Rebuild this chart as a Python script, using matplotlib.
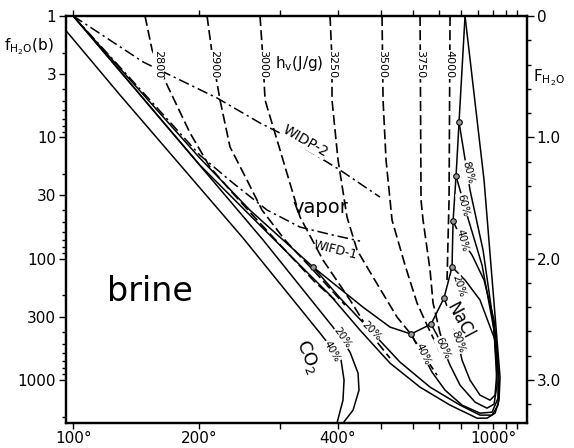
import numpy as np
import matplotlib.pyplot as plt
from matplotlib.ticker import FixedLocator, NullFormatter, MultipleLocator

# temperatures in deg C, fugacities in bar

# CO2 isopleths
co2_40_T = [96.1, 131.9, 249.4, 365, 406.4, 412.7, 410.5, 398]
co2_40_f = [1.35, 4.48, 67.6, 409, 685, 1000, 1465, 2266]
co2_20_T = [100, 275.2, 390, 425.7, 443.8, 446, 432.4, 410.5]
co2_20_f = [1.0, 70, 366, 589, 877, 1211, 1771, 2266]

# three phase curve with the isopleth end points
tp_T = [100, 201, 258, 352.7, 455.5, 526.5, 592, 665.4, 720, 757, 762, 776.6, 791.7, 823.3]
tp_f = [1.0, 14.8, 39.8, 117, 251, 366, 418, 346, 211, 117, 49, 20.8, 7.5, 1.0]
pts_T = [352.7, 592, 665.4, 720, 757, 762, 776.6, 791.7]
pts_f = [117, 418, 346, 211, 117, 49, 20.8, 7.5]

# outer boundary
out_T = [100, 201, 299, 384.2, 448.4, 526.5, 623.7, 747.6, 892.6, 957.3, 1014.5, 1045.1, 1053, 937.1, 823.3]
out_f = [1.0, 16.9, 77.3, 199.5, 388, 726, 1145, 1610, 2062, 2062, 1875, 1465, 946, 22.5, 1.0]

# NaCl isopleths
nacl_80_T = [720, 757, 786.6, 807.3, 851, 911, 978, 1014.5, 1029.6, 999.7, 930.5, 851, 791.7]
nacl_80_f = [211, 321, 487, 685, 1002, 1332, 1465, 1332, 828, 321, 84.9, 27.2, 7.5]
nacl_60_T = [665.4, 689.9, 715.7, 747.6, 796.9, 880.4, 957.3, 1007, 1029.6, 1007, 924, 834.3, 776.6]
nacl_60_f = [346, 426, 546, 754, 1102, 1521, 1706, 1580, 1102, 388, 113, 43.7, 20.8]
nacl_40_T = [592, 612.9, 634.7, 669.4, 724.6, 807.3, 911, 992.4, 1037.3, 1037.3, 1007, 937.1, 862.7, 807.3, 762]
nacl_40_f = [418, 516, 623, 861, 1211, 1610, 1875, 1840, 1410, 685, 321, 150, 93.4, 70.3, 49]
nacl_20_T = [352.7, 404.3, 475.2, 556.5, 661.5, 796.9, 911, 992.4, 1037.3, 1045.1, 1014.5, 911, 823.3, 757]
nacl_20_f = [117, 211, 395, 712, 1144, 1610, 1946, 1946, 1610, 1000, 469, 219, 150, 117]

# isenthalps h_v (J/g)
h_labels = ['2800', '2900', '3000', '3250', '3500', '3750', '4000']
h_T = [
    [151.3, 157.1, 170.0, 191.3, 211.6, 233.8, 264.6, 306.8, 356.2, 394.1],
    [208.5, 214.8, 222.5, 233.8, 254.3, 273.9, 306.8, 356.2, 414.8],
    [271.2, 275.2, 278, 299.3, 330.5, 370.8, 425.7, 480.3, 526.5],
    [384.2, 388.1, 388.1, 400.2, 419.1, 441.5, 480.3, 547.3, 588.8, 649.8, 689.9],
    [504.1, 506.9, 515.2, 532.4, 572.3, 612.9, 649.8, 702.6],
    [623.7, 627.3, 634.7, 661.5, 673.5, 702.6, 733.7],
    [747.6, 742.9, 738.2, 733.7],
]
h_f = [
    [1.0, 1.9, 3.7, 9.2, 17.6, 27.2, 46, 85, 156, 219],
    [1.0, 2.31, 4.93, 12.0, 22.5, 39.8, 70.3, 129, 241],
    [1.0, 2.31, 4.93, 12.7, 45.4, 102.7, 219, 443, 660],
    [1.0, 2.31, 4.93, 15.4, 45.4, 84.9, 141.8, 303, 410, 685, 912],
    [1.0, 4.93, 15.4, 48.1, 113, 232, 353, 589],
    [1.0, 32.9, 48.1, 124, 232, 410, 623],
    [1.0, 32.9, 70.3, 150],
]

# dew / fluid lines
widp_T = [100, 149.7, 172.6, 219.2, 271.2, 299.3, 404.3, 498.7]
widp_f = [1.0, 2.39, 3.07, 4.74, 7.62, 9.22, 18.6, 31.1]
wifd_T = [100, 155.4, 201, 237.3, 280.7, 330.5, 390, 448.4]
wifd_f = [1.0, 4.93, 14.0, 23.8, 39.7, 54.9, 63.9, 71.6]

x_ticks = [100, 200, 300, 400, 500, 600, 700, 800, 900, 1000, 1100, 1200]
x_labels = {100: '100°', 200: '200°', 400: '400°', 1000: '1000°'}
f_ticks = [1, 3, 10, 30, 100, 300, 1000]


def tx(T):
    # the temperature axis is linear in 1/T (Kelvin)
    return -1000.0 / (np.asarray(T, dtype=float) + 273.15)


fig = plt.figure(figsize=(5.74, 4.48), dpi=100)
ax = fig.add_axes([66 / 574, 1 - 423 / 448, 461 / 574, 407 / 448])

solid = dict(color='k', lw=1.1)
dash = dict(color='k', lw=1.2, ls=(0, (6, 2.5)))
dashdot = dict(color='k', lw=1.1, ls=(0, (7, 2.5, 1.5, 2.5)))

for T, f in [(co2_40_T, co2_40_f), (co2_20_T, co2_20_f), (tp_T, tp_f), (out_T, out_f),
             (nacl_80_T, nacl_80_f), (nacl_60_T, nacl_60_f), (nacl_40_T, nacl_40_f),
             (nacl_20_T, nacl_20_f)]:
    ax.plot(tx(T), f, **solid)
ax.plot(tx(pts_T), pts_f, 'o', ms=4, mfc='#999999', mec='k', mew=0.8, zorder=5)

for lab, T, f in zip(h_labels, h_T, h_f):
    ax.plot(tx(T), f, **dash)
    tl = np.interp(np.log(2.5), np.log(f), T)
    ax.text(tx(tl), 2.5, lab, rotation=-90, ha='center', va='center', fontsize=8,
            bbox=dict(fc='white', ec='none', pad=0.3))

ax.plot(tx(widp_T), widp_f, **dashdot)
ax.plot(tx(wifd_T), wifd_f, **dashdot)

box = dict(fc='white', ec='none', pad=0.3)
ax.text(tx(338.8), 10.7, 'WIDP-2', rotation=-30, ha='center', va='center', fontsize=10, bbox=box)
ax.text(tx(394.1), 85, 'WIFD-1', rotation=-14, ha='center', va='center', fontsize=9)
ax.text(tx(329), 2.44, r'h$_\mathrm{v}$(J/g)', ha='center', va='center', fontsize=11)
ax.text(tx(365), 37.6, 'vapor', ha='center', va='center', fontsize=14)
ax.text(tx(155.4), 188, 'brine', ha='center', va='center', fontsize=24)
ax.text(tx(343.9), 647, r'CO$_2$', rotation=-68, ha='center', va='center', fontsize=13)
ax.text(tx(796.9), 327, 'NaCl', rotation=-62, ha='center', va='center', fontsize=12, bbox=box)

pct = [('20%', 408.5, 452, -55), ('40%', 388.1, 578, -60), ('20%', 475.2, 395, -45),
       ('40%', 634.7, 612, -65), ('60%', 715.7, 546, -65), ('80%', 786.6, 487, -70),
       ('80%', 839.8, 19.3, -76), ('60%', 812.6, 36.1, -76), ('40%', 807.3, 70.3, -76),
       ('20%', 791.7, 168, -72)]
for s, T, f, r in pct:
    ax.text(tx(T), f, s, rotation=r, ha='center', va='center', fontsize=7.5, bbox=box)

ax.set_yscale('log')
ax.set_ylim(2260, 1)
ax.set_xlim(tx(95.5), tx(1308))

ax.set_xticks(tx(x_ticks))
ax.set_xticklabels([x_labels.get(t, '') for t in x_ticks], fontsize=11)
ax.yaxis.set_major_locator(FixedLocator(f_ticks))
ax.set_yticklabels([str(v) for v in f_ticks], fontsize=11)
ax.yaxis.set_minor_locator(FixedLocator([m * 10 ** d for d in range(4) for m in range(2, 10)]))
ax.yaxis.set_minor_formatter(NullFormatter())
ax.tick_params(axis='x', which='both', top=True, direction='out', length=4, width=1, pad=2)
ax.tick_params(axis='y', which='major', direction='out', length=5, width=1, pad=2)
ax.tick_params(axis='y', which='minor', direction='out', length=3, width=1)
for sp in ax.spines.values():
    sp.set_linewidth(1.6)

ax2 = ax.twinx()
ax2.set_ylim(np.log10(2260), 0)
ax2.set_yticks([0, 1, 2, 3])
ax2.set_yticklabels(['0', '1.0', '2.0', '3.0'], fontsize=11)
ax2.yaxis.set_minor_locator(MultipleLocator(0.2))
ax2.tick_params(axis='y', which='major', direction='out', length=5, width=1, pad=2)
ax2.tick_params(axis='y', which='minor', direction='out', length=3, width=1)
for sp in ax2.spines.values():
    sp.set_linewidth(1.6)

fig.text(4 / 574, 1 - 47 / 448, r'f$_{\mathrm{H_2O}}$(b)', fontsize=11, va='center')
fig.text(533 / 574, 1 - 78 / 448, r'F$_{\mathrm{H_2O}}$', fontsize=11, va='center')

fig.savefig('out.png', dpi=100)
